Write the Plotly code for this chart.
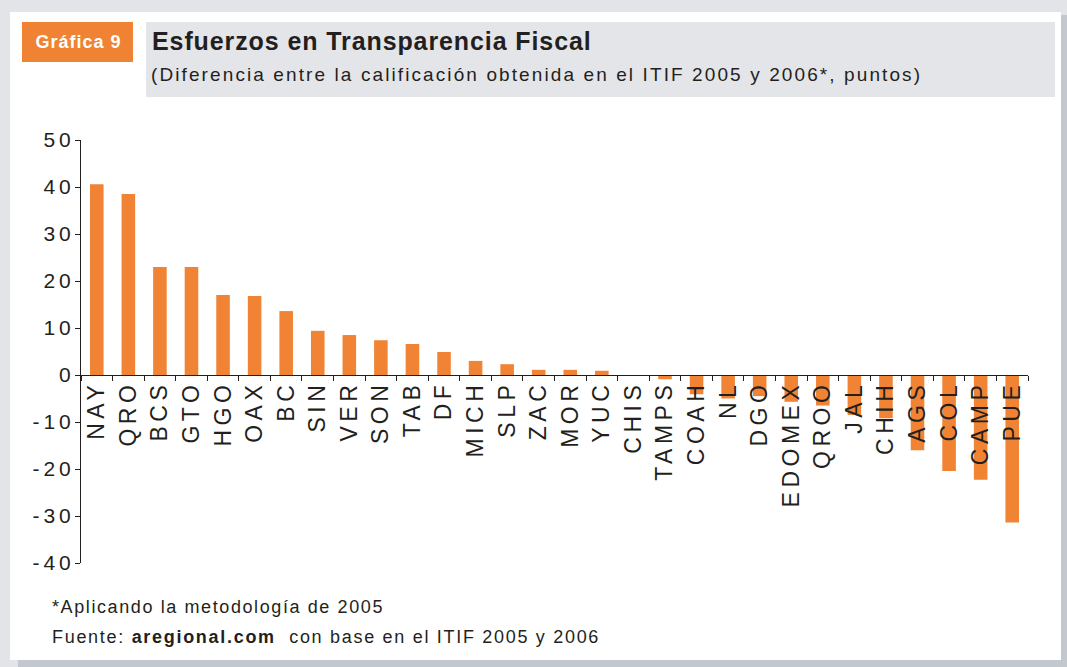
import plotly.graph_objects as go

# Diferencia de calificación ITIF 2006 vs 2005 (puntos)
states = [
    "NAY", "QRO", "BCS", "GTO", "HGO", "OAX", "BC", "SIN", "VER", "SON",
    "TAB", "DF", "MICH", "SLP", "ZAC", "MOR", "YUC", "CHIS", "TAMPS", "COAH",
    "NL", "DGO", "EDOMEX", "QROO", "JAL", "CHIH", "AGS", "COL", "CAMP", "PUE",
]
diff_points = [
    40.6, 38.5, 23.0, 23.0, 17.0, 16.8, 13.6, 9.4, 8.5, 7.4,
    6.6, 4.9, 3.0, 2.3, 1.1, 1.1, 0.9, 0.0, -0.9, -4.1,
    -5.0, -4.5, -5.7, -6.5, -8.5, -9.2, -16.0, -20.4, -22.3, -31.4,
]
y_ticks = [-40, -30, -20, -10, 0, 10, 20, 30, 40, 50]
y_tick_labels = ["-40", "-30", "-20", "-10", "0", "10", "20", "30", "40", "50"]

W, H = 1067, 667
L, R, T, B = 81, 1028, 140, 563  # plot area in pixels
Y_MIN, Y_MAX = -40, 50

_INK = "#231f20"
_ORANGE = "#f08434"
_HEADER_GRAY = "#e4e5e9"
_OUTER_GRAY = "#e3e4e8"
_SHADOW = "#c3c7ce"
_FONT = "Liberation Sans, Arial, Helvetica, sans-serif"


def px(x):
    return (x - L) / (R - L)


def py(y):
    return (B - y) / (B - T)


def rect(x0, y0, x1, y1, color):
    return dict(
        type="rect", xref="paper", yref="paper",
        x0=px(x0), x1=px(x1), y0=py(y1), y1=py(y0),
        fillcolor=color, line_width=0, layer="below",
    )


fig = go.Figure(
    go.Bar(
        x=states,
        y=diff_points,
        marker={"color": _ORANGE, "line": {"width": 0}},
        hovertemplate="%{x}: %{y}<extra></extra>",
    )
)

shapes = [
    rect(18, 15, W, H, _SHADOW),
    rect(10, 12, 1061, 660, "white"),
    rect(22, 22, 133, 62, "#ef8233"),
    rect(146, 22, 1055, 97, _HEADER_GRAY),
]

annotations = [
    dict(x=px(78), y=py(42), text="<b>Gráfica 9</b>",
         font={"size": 18, "color": "white"}, xanchor="center"),
    dict(x=px(150), y=py(41), text="<b>Esfuerzos en Transparencia Fiscal</b>",
         font={"size": 25, "color": _INK}, xanchor="left", align="left"),
    dict(x=px(149), y=py(74),
         text="(Diferencia entre la calificación obtenida en el ITIF 2005 y 2006*, puntos)",
         font={"size": 19, "color": _INK}, xanchor="left", align="left"),
    dict(x=px(50), y=py(607), text="*Aplicando la metodología de 2005",
         font={"size": 18, "color": _INK}, xanchor="left", align="left"),
    dict(x=px(50), y=py(637),
         text="Fuente: <b>aregional.com</b>  con base en el ITIF 2005 y 2006",
         font={"size": 18, "color": _INK}, xanchor="left", align="left"),
]
for a in annotations:
    a.update(xref="paper", yref="paper", yanchor="middle", showarrow=False)

fig.update_layout(
    width=W,
    height=H,
    margin={"l": L, "r": W - R, "t": T, "b": H - B, "pad": 0},
    paper_bgcolor=_OUTER_GRAY,
    plot_bgcolor="rgba(0,0,0,0)",
    font={"family": _FONT, "color": _INK},
    showlegend=False,
    bargap=0.57,
    shapes=shapes,
    annotations=annotations,
    xaxis={
        "type": "category",
        "anchor": "free",
        "position": (0 - Y_MIN) / (Y_MAX - Y_MIN),
        "showline": True,
        "linecolor": _INK,
        "linewidth": 1,
        "ticks": "outside",
        "tickson": "boundaries",
        "ticklen": 5,
        "tickcolor": _INK,
        "tickangle": -90,
        "tickfont": {"size": 23, "color": _INK},
        "showgrid": False,
        "zeroline": False,
        "fixedrange": True,
    },
    yaxis={
        "range": [Y_MIN, Y_MAX],
        "tickvals": y_ticks,
        "ticktext": y_tick_labels,
        "showline": True,
        "linecolor": _INK,
        "linewidth": 1,
        "ticks": "outside",
        "ticklen": 5,
        "tickcolor": _INK,
        "tickfont": {"size": 21, "color": _INK},
        "showgrid": False,
        "zeroline": False,
        "fixedrange": True,
    },
)

# The printed chart uses tracked (letter-spaced) type; drop the page margin
# so the 1067x667 figure fills the window exactly.
post = """
document.body.style.margin = '0';
var gd = document.getElementById('{plot_id}');
function spread(sel, sp) {
  gd.querySelectorAll(sel).forEach(function (t) {
    t.style.letterSpacing = sp + 'px';
    t.setAttribute('x', parseFloat(t.getAttribute('x') || 0) + sp);
  });
}
spread('.xtick text', 4.5);
spread('.ytick text', 4);
var ann = [1, 0.9, 2.1, 1.6, 1.7];
gd.querySelectorAll('.annotation-text').forEach(function (t, i) {
  t.style.letterSpacing = ann[i] + 'px';
});
"""

fig.write_html(
    "out.html",
    config={"displayModeBar": False, "responsive": False},
    post_script=post,
)
